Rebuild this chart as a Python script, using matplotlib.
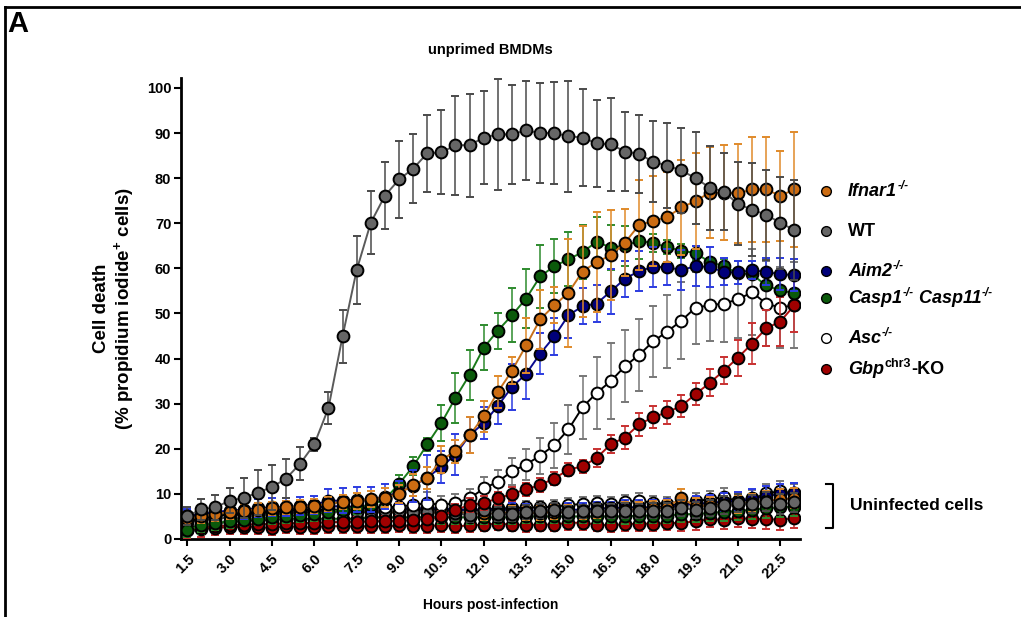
import matplotlib
matplotlib.use("Agg")
import matplotlib.pyplot as plt
from matplotlib.lines import Line2D
from matplotlib.transforms import offset_copy

plt.rcParams['font.family'] = ['Liberation Sans', 'DejaVu Sans']
plt.rcParams['font.weight'] = 'bold'
plt.rcParams['mathtext.fontset'] = 'custom'
plt.rcParams['mathtext.rm'] = 'Liberation Sans:bold'
plt.rcParams['mathtext.bf'] = 'Liberation Sans:bold'
plt.rcParams['mathtext.it'] = 'Liberation Sans:italic:bold'
plt.rcParams['mathtext.default'] = 'rm'

# ---------------- data ----------------
hours = [1.5, 2.0, 2.5, 3.0, 3.5, 4.0, 4.5, 5.0, 5.5, 6.0, 6.5, 7.0, 7.5, 8.0, 8.5,
         9.0, 9.5, 10.0, 10.5, 11.0, 11.5, 12.0, 12.5, 13.0, 13.5, 14.0, 14.5, 15.0,
         15.5, 16.0, 16.5, 17.0, 17.5, 18.0, 18.5, 19.0, 19.5, 20.0, 20.5, 21.0, 21.5,
         22.0, 22.5, 23.0]
xtick_values = [1.5, 3.0, 4.5, 6.0, 7.5, 9.0, 10.5, 12.0, 13.5, 15.0, 16.5, 18.0, 19.5, 21.0, 22.5]
ytick_values = [0, 10, 20, 30, 40, 50, 60, 70, 80, 90, 100]

# infected
wt_inf = [5.1, 6.6, 7.0, 8.5, 9.1, 10.3, 11.5, 13.4, 16.7, 21.0, 29.0, 44.9, 59.6, 70.1, 76.1,
          79.7, 82.1, 85.5, 85.7, 87.3, 87.3, 89.0, 89.7, 89.7, 90.6, 90.0, 90.0, 89.3,
          89.0, 87.7, 87.5, 85.9, 85.4, 83.6, 82.8, 81.7, 80.0, 77.9, 77.0, 74.3, 73.0,
          71.9, 70.1, 68.5]
wt_inf_sd = [2.0, 2.3, 2.8, 2.7, 4.5, 5.0, 5.0, 4.3, 3.7, 1.5, 3.5, 5.9, 7.5, 7.0, 7.4,
             8.5, 7.6, 8.5, 9.3, 11.0, 11.4, 10.3, 12.3, 11.0, 11.0, 11.0, 11.3, 12.3,
             10.8, 9.6, 10.3, 8.7, 8.6, 9.0, 9.5, 9.5, 10.2, 9.3, 8.5, 9.2, 10.3,
             10.0, 10.2, 11.0]
ifnar_inf = [4.5, 5.0, 5.5, 6.0, 6.3, 6.5, 6.8, 7.0, 7.2, 7.3, 7.8, 8.2, 8.5, 8.8, 9.2,
             10.0, 12.0, 13.5, 17.6, 19.4, 23.0, 27.2, 32.6, 37.3, 42.9, 48.7, 51.8, 54.6,
             59.3, 61.4, 62.9, 65.7, 69.6, 70.5, 71.4, 73.5, 74.9, 76.8, 76.8, 76.6, 77.5,
             77.5, 76.1, 77.5]
ifnar_inf_sd = [1.5, 1.5, 1.5, 1.5, 1.5, 1.5, 1.5, 1.5, 1.5, 1.5, 1.5, 1.5, 1.8, 1.8, 2.0,
                2.0, 2.5, 2.5, 3.0, 2.5, 4.0, 3.5, 3.5, 3.0, 6.0, 6.5, 4.0, 12.0,
                10.0, 11.0, 10.0, 7.5, 10.0, 10.0, 10.0, 10.5, 10.6, 10.0, 10.5, 11.0, 11.7,
                11.7, 10.0, 12.7]
aim2_inf = [5.0, 5.5, 6.0, 6.3, 6.5, 6.8, 7.0, 7.0, 7.3, 7.6, 8.5, 8.5, 8.7, 8.7, 9.4,
            10.3, 11.8, 13.6, 16.0, 18.7, 23.0, 25.7, 29.5, 33.7, 36.6, 41.1, 44.9, 49.6,
            51.6, 52.2, 54.9, 57.7, 59.4, 60.3, 60.3, 59.6, 60.5, 60.3, 59.2, 59.1, 59.6,
            59.2, 58.7, 58.5]
aim2_inf_sd = [1.5, 1.5, 1.8, 1.8, 2.0, 2.0, 2.0, 2.0, 2.0, 2.0, 2.5, 2.8, 2.8, 2.8, 2.8,
               2.5, 3.5, 5.0, 3.5, 4.5, 4.0, 3.5, 4.0, 5.0, 5.5, 4.5, 4.0, 5.0,
               4.0, 4.0, 5.0, 4.0, 4.5, 4.5, 4.0, 4.5, 4.5, 4.5, 3.0, 2.5, 2.0,
               3.0, 3.5, 3.5]
casp_inf = [2.0, 3.0, 3.5, 4.0, 4.3, 4.5, 4.8, 5.0, 5.3, 5.5, 6.0, 6.5, 7.0, 7.5, 8.8,
            12.2, 16.1, 21.0, 25.7, 31.3, 36.4, 42.4, 46.2, 49.6, 53.3, 58.2, 60.5, 62.0,
            63.6, 65.9, 64.6, 65.0, 66.1, 65.6, 64.7, 63.9, 63.4, 61.4, 60.5, 58.9, 58.7,
            56.2, 55.1, 54.5]
casp_inf_sd = [1.5, 1.5, 1.5, 1.5, 1.5, 1.5, 1.5, 1.5, 1.5, 1.5, 1.5, 1.5, 1.5, 1.5, 1.5,
               2.0, 2.0, 1.5, 4.0, 5.5, 5.5, 5.0, 4.0, 6.0, 6.5, 7.0, 6.0, 6.0,
               6.0, 5.5, 5.0, 4.5, 4.0, 2.0, 1.5, 1.5, 1.5, 1.0, 1.5, 1.0, 1.0,
               1.0, 1.0, 1.0]
asc_inf = [4.0, 4.5, 5.0, 5.5, 5.5, 6.0, 6.0, 6.3, 6.5, 6.5, 6.5, 6.5, 6.8, 7.0, 7.0,
           7.2, 7.5, 8.0, 7.5, 8.0, 9.0, 11.2, 12.7, 15.0, 16.5, 18.5, 20.8, 24.3,
           29.2, 32.4, 35.0, 38.3, 40.8, 43.8, 46.0, 48.4, 51.3, 51.8, 52.2, 53.1, 54.7,
           52.2, 51.3, 51.8]
asc_inf_sd = [2.0, 2.0, 2.0, 2.0, 2.0, 2.0, 2.0, 2.0, 2.0, 2.0, 2.0, 2.0, 2.0, 2.0, 2.0,
              2.0, 2.0, 2.5, 2.0, 2.0, 2.0, 2.5, 2.5, 3.0, 3.5, 4.0, 5.0, 5.5,
              7.0, 8.0, 8.5, 8.0, 8.0, 7.8, 8.2, 8.5, 8.0, 8.0, 8.5, 8.5, 9.5,
              9.5, 9.0, 9.5]
gbp_inf = [2.0, 2.5, 2.8, 3.0, 3.2, 3.3, 3.3, 3.5, 3.5, 3.6, 3.7, 3.8, 3.8, 3.9, 4.0,
           4.0, 4.2, 4.5, 5.0, 6.5, 7.5, 8.0, 9.0, 10.0, 11.0, 12.0, 13.4, 15.4,
           16.1, 18.0, 21.0, 22.5, 25.4, 27.0, 28.1, 29.5, 32.1, 34.6, 37.3, 40.2, 43.3,
           46.7, 48.2, 51.8]
gbp_inf_sd = [1.0, 1.0, 1.0, 1.0, 1.0, 1.0, 1.0, 1.0, 1.0, 1.0, 1.0, 1.0, 1.0, 1.0, 1.0,
              1.0, 1.0, 1.0, 1.2, 1.2, 1.5, 1.5, 1.5, 1.5, 1.5, 1.5, 1.5, 1.5,
              1.5, 2.0, 2.0, 2.5, 2.5, 2.5, 2.5, 2.5, 2.5, 3.0, 3.0, 4.0, 4.5,
              4.0, 5.5, 6.0]

# uninfected
wt_un = [3.8, 4.2, 4.5, 4.8, 4.5, 5.3, 5.5, 5.8, 6.2, 6.0, 6.2, 6.3, 6.0, 6.4, 6.2,
         6.3, 6.0, 6.0, 6.2, 5.7, 5.3, 6.5, 5.5, 5.5, 6.0, 6.2, 6.5, 5.9,
         6.1, 6.3, 6.2, 6.3, 6.2, 6.3, 6.3, 6.9, 6.5, 6.8, 7.6, 7.9, 7.7,
         8.3, 7.7, 8.1]
aim2_un = [5.0, 5.5, 6.0, 6.0, 6.2, 6.5, 6.5, 6.8, 7.0, 7.0, 7.2, 7.3, 7.0, 7.0, 7.0,
           6.8, 6.8, 6.8, 6.8, 6.5, 6.5, 6.5, 6.5, 6.5, 6.3, 6.3, 6.3, 6.5,
           6.5, 6.8, 6.8, 7.0, 7.0, 7.0, 7.2, 7.5, 7.8, 8.0, 8.3, 8.5, 9.0,
           9.5, 10.0, 10.2]
ifnar_un = [4.5, 5.0, 5.2, 5.5, 5.5, 5.8, 6.0, 6.0, 6.2, 6.2, 6.3, 6.3, 6.2, 6.2, 6.0,
            6.0, 6.0, 6.0, 5.8, 5.8, 5.8, 5.8, 5.8, 5.8, 5.8, 5.8, 6.0, 6.0,
            6.0, 6.2, 6.2, 6.5, 6.5, 6.8, 7.0, 9.2, 7.2, 7.5, 7.5, 7.8, 8.0,
            8.5, 8.8, 9.0]
casp_un = [2.5, 3.0, 3.5, 3.8, 4.0, 4.2, 4.2, 4.5, 4.5, 4.5, 4.5, 4.5, 4.5, 4.8, 4.8,
           4.8, 4.8, 4.8, 4.8, 4.8, 4.8, 4.8, 4.8, 4.8, 5.0, 5.0, 5.0, 5.0,
           5.0, 5.0, 5.0, 5.0, 5.2, 5.2, 5.2, 5.5, 5.5, 5.8, 6.0, 6.2, 6.5,
           6.8, 7.0, 7.2]
asc_un = [4.5, 5.0, 5.2, 5.5, 5.5, 5.8, 5.8, 6.0, 6.0, 6.0, 6.2, 6.2, 6.2, 6.3, 6.3,
          6.3, 6.5, 6.5, 6.5, 6.5, 6.5, 6.5, 6.8, 6.8, 7.0, 7.0, 7.2, 7.5,
          7.8, 8.0, 7.8, 8.2, 8.5, 8.0, 7.8, 7.4, 8.4, 8.8, 9.3, 8.4, 8.8,
          10.1, 10.6, 10.1]
gbp_un = [2.0, 2.2, 2.5, 2.6, 2.7, 2.7, 2.4, 2.9, 2.6, 2.6, 2.9, 2.8, 2.8, 2.8, 2.8,
          3.0, 2.9, 2.9, 3.0, 2.8, 3.0, 3.2, 3.4, 3.2, 3.1, 3.2, 3.2, 3.6,
          3.6, 3.2, 3.0, 3.3, 3.4, 3.4, 3.5, 3.6, 3.9, 4.4, 4.2, 4.6, 4.5,
          4.4, 4.3, 4.6]
un_sd = [1.8, 1.8, 1.6, 1.6, 1.6, 1.5, 1.5, 1.5, 1.5, 1.5, 1.5, 1.5, 1.5, 1.5, 1.5,
         1.5, 1.5, 1.5, 1.5, 1.5, 1.5, 1.5, 1.5, 1.5, 1.5, 1.5, 1.5, 1.5,
         1.5, 1.5, 1.5, 1.6, 1.6, 1.6, 1.6, 1.8, 1.8, 1.8, 2.0, 2.0, 2.0,
         2.2, 2.2, 2.2]

series_names = ["Ifnar1", "WT", "Aim2", "Casp1/11", "Asc", "Gbp"]

# ---------------- styling ----------------
style = {
    "Ifnar1":   dict(line="#C8701A", err="#E08A2A", fill="#CC6C12"),
    "WT":       dict(line="#5A5A5A", err="#4A4A4A", fill="#666666"),
    "Aim2":     dict(line="#0A0A90", err="#2B3BE0", fill="#00007A"),
    "Casp1/11": dict(line="#1A7A1A", err="#2E8B2E", fill="#0B5A0B"),
    "Asc":      dict(line="#000000", err="#777777", fill="#FFFFFF"),
    "Gbp":      dict(line="#B01010", err="#C83030", fill="#A00000"),
}

infected = {"Ifnar1": (ifnar_inf, ifnar_inf_sd), "WT": (wt_inf, wt_inf_sd),
            "Aim2": (aim2_inf, aim2_inf_sd), "Casp1/11": (casp_inf, casp_inf_sd),
            "Asc": (asc_inf, asc_inf_sd), "Gbp": (gbp_inf, gbp_inf_sd)}
uninfected = {"Ifnar1": ifnar_un, "WT": wt_un, "Aim2": aim2_un,
              "Casp1/11": casp_un, "Asc": asc_un, "Gbp": gbp_un}

W, H = 1021, 617
fig = plt.figure(figsize=(W / 100, H / 100), dpi=100)
ax = fig.add_axes([181 / W, 1 - 539 / H, (800 - 181) / W, (539 - 78) / H])

draw_order = ["Asc", "Gbp", "Casp1/11", "Aim2", "Ifnar1", "WT"]
z = 2
for name in draw_order:
    st = style[name]
    y = uninfected[name]
    ax.errorbar(hours, y, yerr=un_sd, fmt='-o', color=st["line"], ecolor=st["err"],
                mfc=st["fill"], mec='black', mew=1.4, ms=8.5, lw=1.4,
                elinewidth=1.1, capsize=3.2, capthick=1.1, zorder=z)
    z += 1
for name in draw_order:
    st = style[name]
    y, sd = infected[name]
    ax.errorbar(hours, y, yerr=sd, fmt='-o', color=st["line"], ecolor=st["err"],
                mfc=st["fill"], mec='black', mew=1.4, ms=8.5, lw=1.4,
                elinewidth=1.1, capsize=3.2, capthick=1.1, zorder=z)
    z += 1

ax.set_xlim(1.28, 23.2)
ax.set_ylim(0, 102.2)
ax.set_xticks(xtick_values)
ax.set_xticklabels([f"{v:.1f}" for v in xtick_values], rotation=45, ha='right',
                   rotation_mode='anchor', fontsize=10.5, fontweight='bold')
ax.set_yticks(ytick_values)
ax.set_yticklabels([str(v) for v in ytick_values], fontsize=10.5, fontweight='bold')
for s in ['top', 'right']:
    ax.spines[s].set_visible(False)
for s in ['left', 'bottom']:
    ax.spines[s].set_linewidth(2)
ax.tick_params(axis='both', direction='out', length=5, width=1.5, pad=2)
ax.tick_params(axis='x', pad=4)

ax.set_title("unprimed BMDMs", fontsize=10.5, fontweight='bold', pad=17)
ax.set_xlabel("Hours post-infection", fontsize=10, fontweight='bold', labelpad=12)
ax.set_ylabel("Cell death\n(% propidium iodide$^{+}$ cells)", fontsize=13.5,
              fontweight='bold', labelpad=8, linespacing=1.1)

# legend (manual, rich text pieces)
renderer = fig.canvas.get_renderer()


def rich_text(x_px, y_px, pieces):
    """pieces: list of (text, italic, fontsize, rise_px)"""
    x = x_px
    for txt, italic, size, rise in pieces:
        t = fig.text(x / W, 1 - (y_px - rise) / H, txt, fontsize=size, fontweight='bold',
                     style='italic' if italic else 'normal', va='baseline', ha='left')
        bb = t.get_window_extent(renderer)
        x += bb.width + 0.5


BIG, SUP = 13, 8.5
legend_pieces = [
    [("Ifnar1", True, BIG, 0), ("-/-", True, SUP, 7)],
    [("WT", False, BIG, 0)],
    [("Aim2", True, BIG, 0), ("-/-", True, SUP, 7)],
    [("Casp1", True, BIG, 0), ("-/-", True, SUP, 7), (" Casp11", True, BIG, 0), ("-/-", True, SUP, 7)],
    [("Asc", True, BIG, 0), ("-/-", True, SUP, 7)],
    [("Gbp", True, BIG, 0), ("chr3", False, SUP + 0.5, 7), ("-KO", False, BIG, 0)],
]
legend_y = [191, 231, 271, 298, 338, 369]
for name, pieces, yy in zip(series_names, legend_pieces, legend_y):
    fig.add_artist(Line2D([826 / W], [1 - yy / H], transform=fig.transFigure,
                          marker='o', ms=7, mfc=style[name]["fill"], mec='black',
                          mew=1.0, ls='none'))
    rich_text(848, yy + 5, pieces)

# uninfected bracket
bx, by0, by1 = 833, 484, 528
fig.add_artist(Line2D([826 / W, bx / W, bx / W, 826 / W],
                      [1 - by0 / H, 1 - by0 / H, 1 - by1 / H, 1 - by1 / H],
                      transform=fig.transFigure, color='black', lw=1.5))
fig.text(850 / W, 1 - 506 / H, "Uninfected cells", fontsize=12.5, fontweight='bold',
         va='center', ha='left')

# panel letter and border
fig.text(7 / W, 1 - 24 / H, "A", fontsize=21, fontweight='bold', va='center', ha='left')
fig.add_artist(Line2D([5 / W, 1.0], [1 - 7 / H, 1 - 7 / H], transform=fig.transFigure,
                      color='black', lw=2))
fig.add_artist(Line2D([5 / W, 5 / W], [0, 1 - 7 / H], transform=fig.transFigure,
                      color='black', lw=2))

fig.savefig("out.png", dpi=100)
